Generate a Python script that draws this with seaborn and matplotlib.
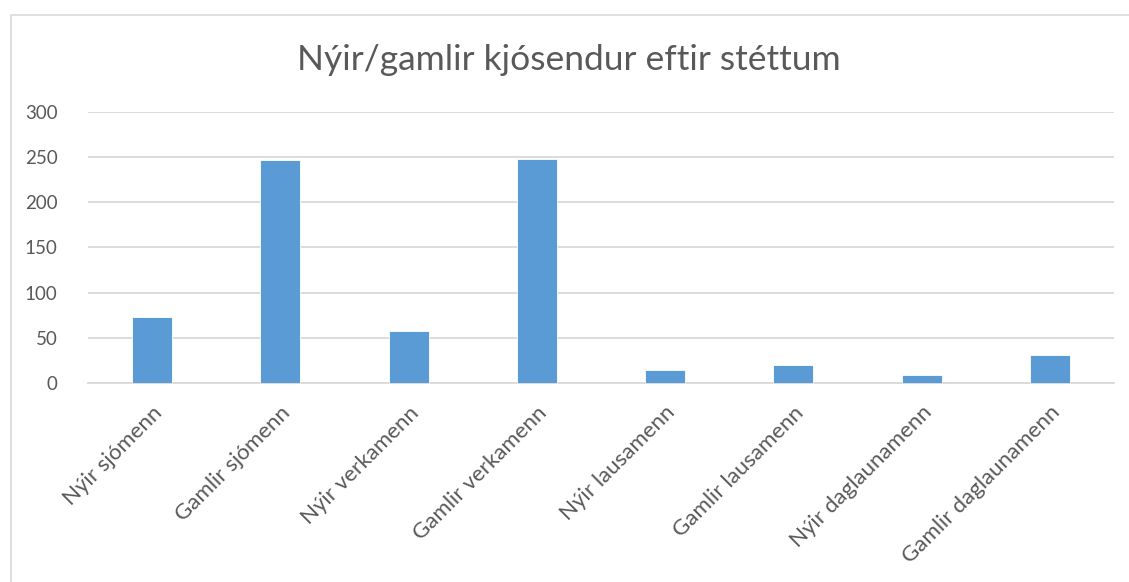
import pandas as pd
import seaborn as sns
import matplotlib.pyplot as plt
from matplotlib.patches import Rectangle

categories = ["Nýir sjómenn", "Gamlir sjómenn", "Nýir verkamenn", "Gamlir verkamenn",
              "Nýir lausamenn", "Gamlir lausamenn", "Nýir daglaunamenn", "Gamlir daglaunamenn"]
counts = [73, 247, 58, 248, 14, 20, 9, 31]
yticks = [0, 50, 100, 150, 200, 250, 300]

df = pd.DataFrame({"stett": categories, "fjoldi": counts})

sns.set_style("white")
plt.rcParams["font.family"] = ["Lato", "DejaVu Sans"]

text_col = "#595959"
grid_col = "#d9d9d9"

fig = plt.figure(figsize=(11.29, 5.82), dpi=100)
ax = fig.add_axes([88 / 1129, 1 - 383 / 582, (1114 - 88) / 1129, (383 - 112) / 582])

sns.barplot(data=df, x="stett", y="fjoldi", ax=ax, color="#5b9bd5", width=0.31,
            saturation=1, edgecolor="white", linewidth=0.6, zorder=3)

ax.set_ylim(0, 300)
ax.set_yticks(yticks)
ax.set_xlim(-0.5, len(categories) - 0.5)
ax.yaxis.grid(True, color=grid_col, linewidth=1.3, zorder=0)
ax.set_axisbelow(True)
for s in ["top", "right", "left"]:
    ax.spines[s].set_visible(False)
ax.spines["bottom"].set_color(grid_col)
ax.spines["bottom"].set_linewidth(1.3)
ax.set_xlabel("")
ax.set_ylabel("")
ax.tick_params(axis="y", length=0, colors=text_col, labelsize=13.5, pad=22)
ax.tick_params(axis="x", length=0, colors=text_col, labelsize=16, pad=14)
plt.setp(ax.get_xticklabels(), rotation=45, ha="right", rotation_mode="anchor")

fig.text(569 / 1129, 1 - 60 / 582, "Nýir/gamlir kjósendur eftir stéttum", ha="center", va="center",
         fontsize=25.5, color=text_col)

# chart frame
fig.patches.append(Rectangle((11 / 1129, -0.1), 1.2, 1 - 15 / 582 + 0.1, transform=fig.transFigure,
                             fill=False, edgecolor="#d9d9d9", linewidth=1.2))

fig.savefig("out.png", dpi=100)
